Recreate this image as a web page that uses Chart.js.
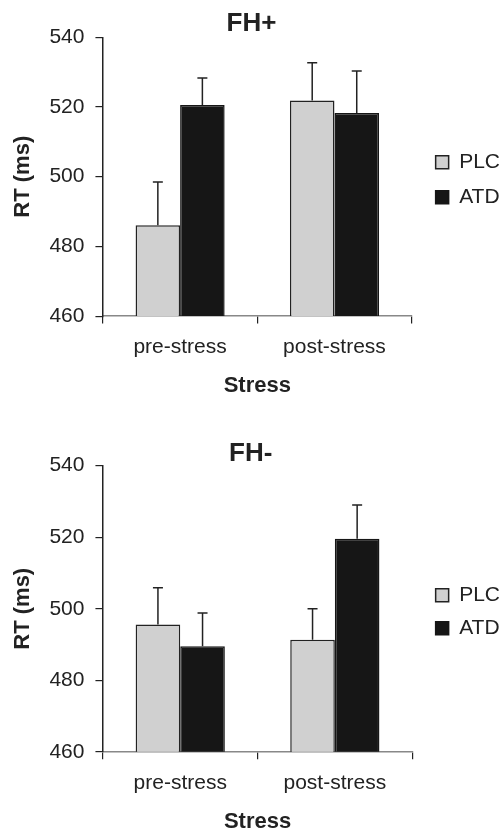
<!DOCTYPE html>
<html>
<head>
<meta charset="utf-8">
<script src="https://cdn.jsdelivr.net/npm/chart.js@4/dist/chart.umd.min.js"></script>
<style>
  html, body { margin: 0; padding: 0; background: #fff; overflow: hidden; }
  .panel { position: absolute; left: 0; width: 500px; }
  #p1 { top: 0; height: 416px; }
  #p2 { top: 416px; height: 420px; }
</style>
</head>
<body>
<div class="panel" id="p1"><canvas id="c1" width="500" height="416"></canvas></div>
<div class="panel" id="p2"><canvas id="c2" width="500" height="420"></canvas></div>
<script>
// ---- data ----
const categories = ['pre-stress', 'post-stress'];
const seriesNames = ['PLC', 'ATD'];
const yTicks = [460, 480, 500, 520, 540];

const fhPlusPLC = [486.1, 521.9];
const fhPlusATD = [520.6, 518.3];
const fhPlusPLCErr = [12.4, 10.8];
const fhPlusATDErr = [7.7, 12.0];

const fhMinusPLC = [495.6, 491.3];
const fhMinusATD = [489.5, 519.6];
const fhMinusPLCErr = [10.3, 8.7];
const fhMinusATDErr = [9.3, 9.4];

const FONT = "'Liberation Sans', Arial, Helvetica, sans-serif";
Chart.defaults.font.family = FONT;
Chart.defaults.color = '#222';

const errorBarPlugin = {
  id: 'errorBars',
  afterDatasetsDraw(chart) {
    const ctx = chart.ctx;
    const yScale = chart.scales.y;
    ctx.save();
    ctx.strokeStyle = '#222';
    ctx.lineWidth = 1.5;
    chart.data.datasets.forEach((ds, i) => {
      const meta = chart.getDatasetMeta(i);
      meta.data.forEach((el, j) => {
        const v = ds.data[j];
        const e = ds.errors[j];
        const yTop = yScale.getPixelForValue(v + e);
        ctx.beginPath();
        ctx.moveTo(el.x, el.y);
        ctx.lineTo(el.x, yTop);
        ctx.moveTo(el.x - 5, yTop);
        ctx.lineTo(el.x + 5, yTop);
        ctx.stroke();
      });
    });
    ctx.restore();
  }
};

const legendShift = {
  id: 'legendShift',
  afterLayout(chart, args, opts) {
    const lg = chart.legend;
    if (lg) {
      lg.left += opts.dx; lg.right += opts.dx;
      lg.top += opts.dy; lg.bottom += opts.dy;
    }
  }
};

function makeChart(canvasId, title, plc, atd, plcErr, atdErr, cfg) {
  return new Chart(document.getElementById(canvasId), {
    type: 'bar',
    data: {
      labels: categories,
      datasets: [
        { label: seriesNames[0], data: plc, errors: plcErr,
          backgroundColor: '#d0d0d0', borderColor: '#222', borderWidth: 1.5,
          categoryPercentage: 0.577, barPercentage: 1.0 },
        { label: seriesNames[1], data: atd, errors: atdErr,
          backgroundColor: '#161616', borderColor: '#161616', borderWidth: 1.5,
          categoryPercentage: 0.577, barPercentage: 1.0 }
      ]
    },
    plugins: [errorBarPlugin, legendShift],
    options: {
      responsive: false,
      animation: false,
      events: [],
      layout: { padding: { left: 3, right: cfg.right, top: 0, bottom: cfg.bottom } },
      plugins: {
        legendShift: { dx: 10 + cfg.right, dy: 3 },
        title: {
          display: true, text: title, color: '#222',
          font: { family: FONT, size: 26, weight: 'bold', lineHeight: 0.9 },
          padding: { top: cfg.titleTop, bottom: cfg.titleBottom }
        },
        legend: {
          position: 'right', align: 'center', fullSize: false,
          labels: {
            boxWidth: 13, boxHeight: 13, padding: cfg.legendPad,
            color: '#222', font: { family: FONT, size: 21 }
          }
        },
        tooltip: { enabled: false }
      },
      scales: {
        x: {
          offset: true,
          grid: { offset: true, drawOnChartArea: false, drawTicks: true, tickLength: 7.5, color: '#222', lineWidth: 1.2 },
          border: { display: true, color: '#888', width: 1.5 },
          ticks: { padding: 11, color: '#222', font: { family: FONT, size: 21 } },
          title: { display: true, text: 'Stress', color: '#222',
                   font: { family: FONT, size: 22, weight: 'bold' },
                   padding: { top: 2, bottom: 0 } }
        },
        y: {
          min: yTicks[0], max: yTicks[yTicks.length - 1],
          afterBuildTicks(scale) { scale.ticks = yTicks.map(v => ({ value: v })); },
          grid: { drawOnChartArea: false, drawTicks: true, tickLength: 7.5, color: '#222', lineWidth: 1.2 },
          border: { display: true, color: '#222', width: 1.5 },
          ticks: { padding: 11, color: '#222', font: { family: FONT, size: 21 } },
          title: { display: true, text: 'RT (ms)', color: '#222',
                   font: { family: FONT, size: 22, weight: 'bold' },
                   padding: { top: 7, bottom: 2 } }
        }
      }
    }
  });
}

makeChart('c1', 'FH+', fhPlusPLC, fhPlusATD, fhPlusPLCErr, fhPlusATDErr,
  { bottom: 16.8, right: 0, titleTop: 12.3, titleBottom: 1.6, legendPad: 14 });
makeChart('c2', 'FH-', fhMinusPLC, fhMinusATD, fhMinusPLCErr, fhMinusATDErr,
  { bottom: 1.1, right: 1.5, titleTop: 26.3, titleBottom: 0, legendPad: 12 });
</script>
</body>
</html>
